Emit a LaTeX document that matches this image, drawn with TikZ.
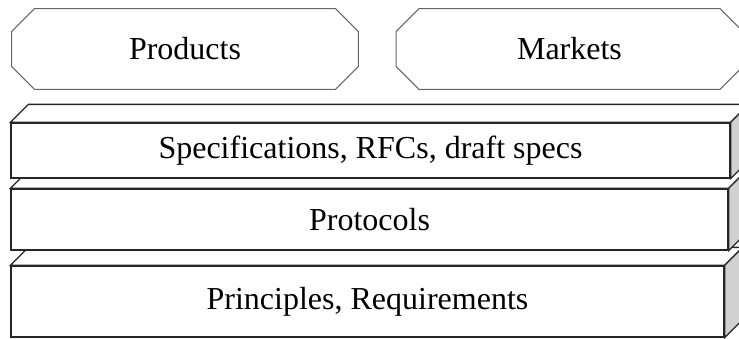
\documentclass[tikz,border=0pt]{standalone}
\usepackage{fontspec}
\setmainfont{Liberation Serif}
\begin{document}
\begin{tikzpicture}[x=0.5pt,y=-0.5pt,
  octa/.style={minimum width=173pt, minimum height=40pt, inner sep=0pt,
    font=\fontsize{16}{19}\selectfont},
  rim/.style={draw=black!60, line width=0.5pt},
  front/.style={draw=black!85, line width=0.65pt, fill=white, inner sep=0pt,
    font=\fontsize{16}{19}\selectfont},
  face/.style={draw=black!85, line width=0.65pt, fill=white},
  side/.style={draw=black!85, line width=0.65pt, fill=black!18}]
\useasboundingbox (0,0) rectangle (739,338);
\clip (0,0) rectangle (739,338);

\node[octa] (1) at (185,49) {Products};
\node[octa] (2) at (569.5,49) {Markets};
\foreach \n in {1,2}
  \path[rim] ([shift={(23,0)}]\n.north west) -- ([shift={(-23,0)}]\n.north east)
    -- ([shift={(0,23)}]\n.north east) -- ([shift={(0,-23)}]\n.south east)
    -- ([shift={(-23,0)}]\n.south east) -- ([shift={(23,0)}]\n.south west)
    -- ([shift={(0,-23)}]\n.south west) -- ([shift={(0,23)}]\n.north west) -- cycle;

\node[front, minimum width=356.5pt, minimum height=35.5pt] (5) at (367.5,301.5) {Principles, Requirements};
\path[face] (5.north west) -- ++(18,-18) -- ([shift={(18,-18)}]5.north east) -- (5.north east) -- cycle;
\path[side] (5.north east) -- ++(18,-18) -- ([shift={(18,-18)}]5.south east) -- (5.south east) -- cycle;

\node[front, minimum width=358.5pt, minimum height=30.5pt] (4) at (369.5,219.5) {Protocols};
\path[face] (4.north west) -- ++(18,-18) -- ([shift={(18,-18)}]4.north east) -- (4.north east) -- cycle;
\path[side] (4.north east) -- ++(18,-18) -- ([shift={(18,-18)}]4.south east) -- (4.south east) -- cycle;

\node[front, minimum width=359.5pt, minimum height=27.5pt] (3) at (370.5,150.5) {Specifications, RFCs, draft specs};
\path[face] (3.north west) -- ++(18,-18) -- ([shift={(18,-18)}]3.north east) -- (3.north east) -- cycle;
\path[side] (3.north east) -- ++(18,-18) -- ([shift={(18,-18)}]3.south east) -- (3.south east) -- cycle;
\end{tikzpicture}
\end{document}
